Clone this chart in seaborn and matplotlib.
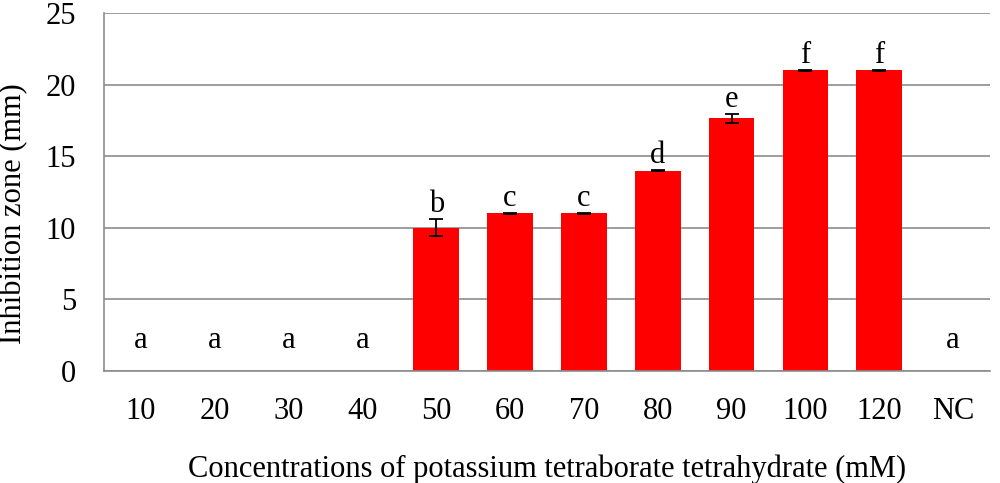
import pandas as pd
import numpy as np
import matplotlib
matplotlib.use('Agg')
import matplotlib.pyplot as plt
import seaborn as sns

# --- Data ---
concentrations = ['10', '20', '30', '40', '50', '60', '70', '80', '90', '100', '120', 'NC']
zone_mm = [0, 0, 0, 0, 10.0, 11.0, 11.0, 14.0, 17.65, 21.0, 21.0, 0]
zone_err = [0, 0, 0, 0, 0.6, 0.05, 0.05, 0.05, 0.3, 0.05, 0.05, 0]
letters = ['a', 'a', 'a', 'a', 'b', 'c', 'c', 'd', 'e', 'f', 'f', 'a']

df = pd.DataFrame({'Concentration': concentrations, 'Zone': zone_mm, 'Err': zone_err})

sns.set_style('white')
plt.rcParams['font.family'] = ['Liberation Serif', 'DejaVu Serif']
plt.rcParams['text.color'] = 'black'
plt.rcParams['xtick.labelcolor'] = 'black'
plt.rcParams['ytick.labelcolor'] = 'black'
plt.rcParams['axes.labelcolor'] = 'black'

fig = plt.figure(figsize=(10, 4.83), dpi=100)
ax = fig.add_axes([0.104, 0.232, 0.886, 0.741])

sns.barplot(data=df, x='Concentration', y='Zone', color='#ff0000',
            saturation=1, width=0.62, edgecolor='none', errorbar=None, ax=ax)

xpos = np.arange(len(concentrations))
has_err = df['Err'] > 0
ax.errorbar(xpos[has_err], df['Zone'][has_err], yerr=df['Err'][has_err],
            fmt='none', ecolor='black', elinewidth=1.3, capsize=5, capthick=1.3, zorder=4)

# significance letters above the bars
for x, val, err, lab in zip(xpos, zone_mm, zone_err, letters):
    if val == 0:
        ax.text(x, 2.1, lab, ha='center', va='center', fontsize=22)
    else:
        ax.annotate(lab, (x, val + err), xytext=(0, 0), textcoords='offset points',
                    ha='center', va='bottom', fontsize=22)

ax.set_ylim(0, 25)
ax.set_xlim(-0.5, len(concentrations) - 0.5)
ax.set_yticks([0, 5, 10, 15, 20, 25])
ax.yaxis.grid(True, color='#8c8c8c', linewidth=1.2)
ax.set_axisbelow(True)

# Excel-style ticks between categories
ax.set_xticks(np.arange(-0.5, len(concentrations)), minor=True)
ax.tick_params(axis='x', which='major', length=0, pad=19, labelsize=22)
ax.tick_params(axis='x', which='minor', length=8, width=1.2, color='#8c8c8c', direction='out')
ax.tick_params(axis='y', which='major', length=7, width=1.2, color='#8c8c8c', direction='out',
               labelsize=22, pad=13)

for side in ['top', 'right']:
    ax.spines[side].set_visible(False)
for side in ['left', 'bottom']:
    ax.spines[side].set_color('#8c8c8c')
    ax.spines[side].set_linewidth(1.2)

ax.set_xlabel('Concentrations of potassium tetraborate tetrahydrate (mM)', fontsize=22, labelpad=20)
ax.set_ylabel('Inhibition zone (mm)', fontsize=22)
ax.yaxis.set_label_coords(-0.086, 0.44)

plt.savefig('out.png', dpi=100)
